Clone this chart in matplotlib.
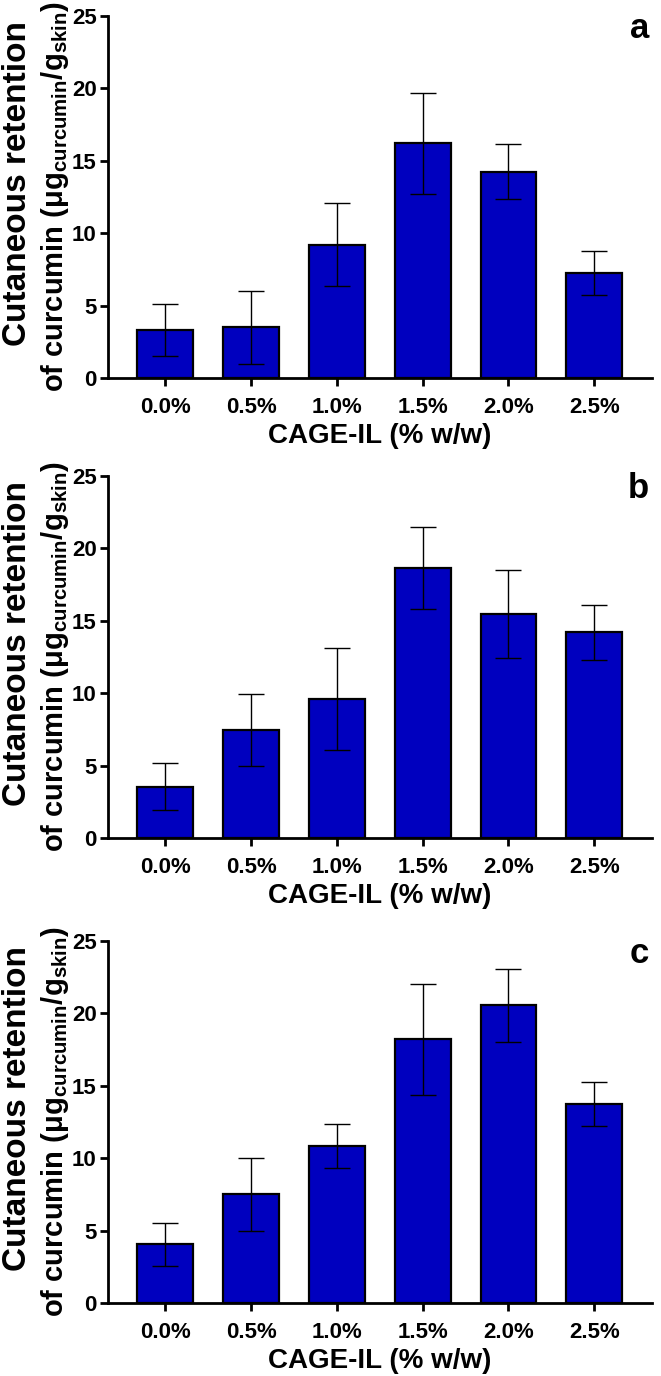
import numpy as np
import matplotlib
matplotlib.use('Agg')
import matplotlib.pyplot as plt

plt.rcParams['font.family'] = ['Liberation Sans', 'DejaVu Sans']
plt.rcParams['font.weight'] = 'bold'
plt.rcParams['mathtext.fontset'] = 'custom'
plt.rcParams['mathtext.rm'] = 'Liberation Sans:bold'
plt.rcParams['mathtext.bf'] = 'Liberation Sans:bold'
plt.rcParams['mathtext.default'] = 'bf'

# CAGE-IL concentrations
categories = ['0.0%', '0.5%', '1.0%', '1.5%', '2.0%', '2.5%']

# cutaneous retention (mean, error) for each panel
mean_a = [3.3, 3.5, 9.2, 16.2, 14.25, 7.25]
err_a = [1.8, 2.5, 2.85, 3.5, 1.9, 1.5]
mean_b = [3.55, 7.45, 9.6, 18.65, 15.45, 14.2]
err_b = [1.6, 2.5, 3.5, 2.85, 3.05, 1.9]
mean_c = [4.05, 7.5, 10.85, 18.2, 20.55, 13.75]
err_c = [1.5, 2.5, 1.5, 3.85, 2.5, 1.5]
panel_labels = ['a', 'b', 'c']

yticks = [0, 5, 10, 15, 20, 25]

fig = plt.figure(figsize=(6.61, 13.76), dpi=100, facecolor='white')

# axes boxes in figure fractions (left, bottom, width, height)
boxes = [[0.163, 0.7253, 0.823, 0.2631],
         [0.163, 0.3910, 0.823, 0.2631],
         [0.163, 0.0531, 0.823, 0.2631]]

data = [(mean_a, err_a), (mean_b, err_b), (mean_c, err_c)]

for box, (m, e), lab in zip(boxes, data, panel_labels):
    ax = fig.add_axes(box)
    x = np.arange(len(categories))
    ax.bar(x, m, width=0.65, color='#0000BF', edgecolor='black', linewidth=1.6, zorder=2)
    ax.errorbar(x, m, yerr=e, fmt='none', ecolor='black', elinewidth=1.0,
                capsize=9.5, capthick=1.0, zorder=3)

    ax.set_xlim(-0.67, 5.67)
    ax.set_ylim(0, 25)
    ax.set_yticks(yticks)
    ax.set_xticks(x)
    ax.set_xticklabels(categories)

    for s in ['top', 'right']:
        ax.spines[s].set_visible(False)
    for s in ['left', 'bottom']:
        ax.spines[s].set_linewidth(2.0)
    ax.tick_params(axis='both', width=2.0, length=6, labelsize=16)
    ax.tick_params(axis='y', pad=2)
    ax.tick_params(axis='x', pad=8)

    ax.set_xlabel('CAGE-IL (% w/w)', fontsize=20, fontweight='bold', labelpad=3)

    # two-line y label, drawn as two rotated texts
    yc = box[1] + box[3] / 2
    fig.text(0.027, yc + 0.010, 'Cutaneous retention', rotation=90,
             ha='center', va='center', fontsize=24, fontweight='bold')
    fig.text(0.083, yc, 'of curcumin (μg$_{curcumin}$/g$_{skin}$)', rotation=90,
             ha='center', va='center', fontsize=21, fontweight='bold')

    ax.text(0.995, 1.01, lab, transform=ax.transAxes, ha='right', va='top',
            fontsize=25, fontweight='bold')

fig.savefig('out.png', dpi=100, facecolor='white')
